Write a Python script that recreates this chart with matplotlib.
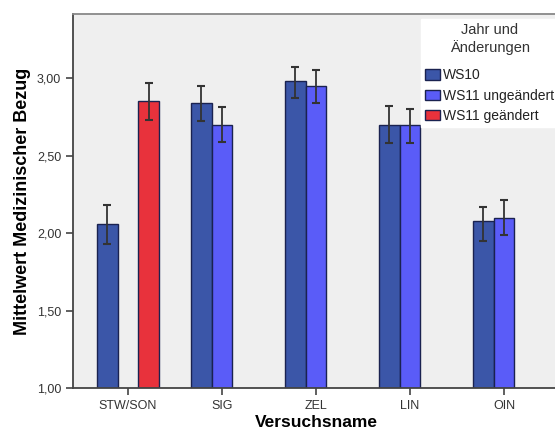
import numpy as np
import matplotlib
matplotlib.use("Agg")
import matplotlib.pyplot as plt
from matplotlib.ticker import FuncFormatter

plt.rcParams["font.family"] = ["Liberation Sans", "DejaVu Sans"]

categories = ["STW/SON", "SIG", "ZEL", "LIN", "OIN"]
series = ["WS10", "WS11 ungeändert", "WS11 geändert"]
# means per series (nan = no bar in that group)
ws10 = [2.06, 2.84, 2.98, 2.70, 2.08]
ws10_lo = [1.93, 2.72, 2.87, 2.58, 1.95]
ws10_hi = [2.18, 2.95, 3.07, 2.82, 2.17]
ws11_u = [np.nan, 2.70, 2.95, 2.70, 2.10]
ws11_u_lo = [np.nan, 2.59, 2.84, 2.58, 1.99]
ws11_u_hi = [np.nan, 2.81, 3.05, 2.80, 2.21]
ws11_g = [2.85, np.nan, np.nan, np.nan, np.nan]
ws11_g_lo = [2.73, np.nan, np.nan, np.nan, np.nan]
ws11_g_hi = [2.97, np.nan, np.nan, np.nan, np.nan]

colors = ["#3B56A8", "#5A5CF8", "#E8323C"]
data = [(ws10, ws10_lo, ws10_hi), (ws11_u, ws11_u_lo, ws11_u_hi), (ws11_g, ws11_g_lo, ws11_g_hi)]

fig = plt.figure(figsize=(5.55, 4.32), dpi=100)
ax = fig.add_axes([73 / 555, 1 - 388 / 432, 486 / 555, 374 / 432])
ax.set_facecolor("#EFEFEF")

x = np.arange(len(categories))
w = 0.223
handles = []
for i, (vals, lo, hi) in enumerate(data):
    vals = np.array(vals, dtype=float)
    pos = x + (i - 1) * w
    m = ~np.isnan(vals)
    b = ax.bar(pos[m], vals[m] - 1.0, bottom=1.0, width=w, color=colors[i],
               edgecolor="#1A2250", linewidth=1.0, label=series[i], zorder=2)
    handles.append(b)
    lo = np.array(lo, dtype=float)[m]
    hi = np.array(hi, dtype=float)[m]
    yerr = np.vstack([vals[m] - lo, hi - vals[m]])
    ax.errorbar(pos[m], vals[m], yerr=yerr, fmt="none", ecolor="#333333",
                elinewidth=1.3, capsize=3, capthick=1.5, zorder=3)

ax.set_xlim(-0.585, 4.585)
ax.set_ylim(1.0, 3.413)
ax.set_xticks(x)
ax.set_xticklabels(categories)
ax.set_yticks([1.0, 1.5, 2.0, 2.5, 3.0])
ax.yaxis.set_major_formatter(FuncFormatter(lambda v, p: f"{v:.2f}".replace(".", ",")))
ax.tick_params(axis="both", labelsize=9, colors="#444444", length=5, width=1.2,
               labelcolor="#333333")
for s in ["left", "bottom"]:
    ax.spines[s].set_color("#444444")
    ax.spines[s].set_linewidth(1.3)
ax.spines["top"].set_color("#888888")
ax.spines["top"].set_linewidth(1.3)
ax.spines["right"].set_visible(False)

ax.set_xlabel("Versuchsname", fontsize=12.5, fontweight="bold", labelpad=2)
ax.set_ylabel("Mittelwert Medizinischer Bezug", fontsize=13, fontweight="bold", labelpad=4)

leg = fig.legend(handles=handles, labels=series, loc="upper left",
                 bbox_to_anchor=(421 / 555, 1 - 19 / 432), title="Jahr und\nÄnderungen",
                 fontsize=10, title_fontsize=10.5, frameon=True, fancybox=False,
                 facecolor="white", edgecolor="white", framealpha=1,
                 handlelength=1.1, handleheight=0.8, handletextpad=0.2,
                 labelspacing=0.45, borderpad=0.3, borderaxespad=0,
                 alignment="center")
leg._legend_box.sep = 10
leg.get_title().set_color("#333333")
leg.get_title().set_multialignment("center")
for t in leg.get_texts():
    t.set_color("#222222")

fig.savefig("out.png", dpi=100)
